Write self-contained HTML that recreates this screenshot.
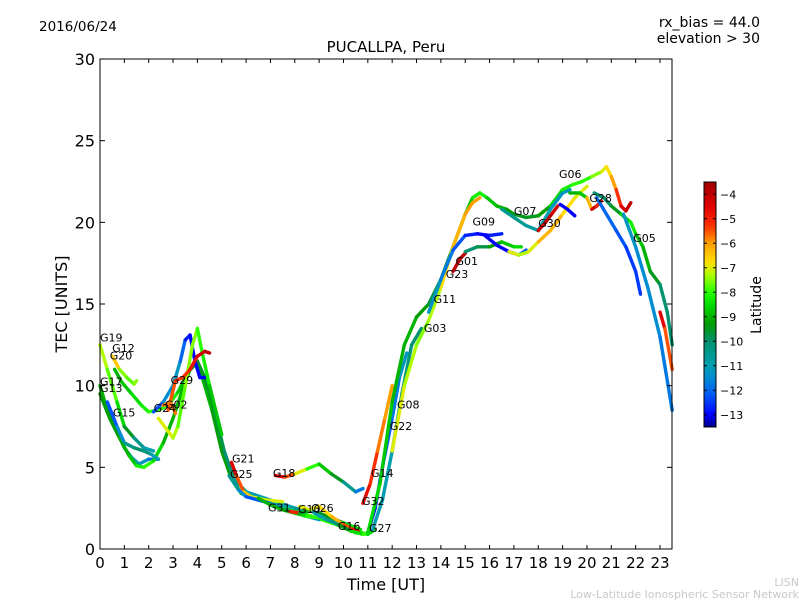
<!DOCTYPE html>
<html><head><meta charset="utf-8">
<style>
body{margin:0;background:#fff;}
svg text{font-family:"DejaVu Sans","Liberation Sans",sans-serif;}
</style></head>
<body>
<svg id="chart" width="800" height="600" xmlns="http://www.w3.org/2000/svg">
<rect width="800" height="600" fill="#fff"/>
<text x="39" y="31" font-size="13.5">2016/06/24</text>
<text x="760" y="27" font-size="14" text-anchor="end">rx_bias = 44.0</text>
<text x="760" y="43" font-size="14" text-anchor="end">elevation &gt; 30</text>
<text x="386" y="52" font-size="15" text-anchor="middle">PUCALLPA, Peru</text>
<g id="tracks"></g>
<g id="labels"></g>
<g id="axes"></g>
<rect x="100" y="59" width="572" height="490" fill="none" stroke="#000" stroke-width="1"/>
<text x="386" y="590" font-size="16" text-anchor="middle">Time [UT]</text>
<text x="67" y="304" font-size="16" text-anchor="middle" transform="rotate(-90 67 304)">TEC [UNITS]</text>
<defs><linearGradient id="jetg" x1="0" y1="1" x2="0" y2="0"></linearGradient></defs>
<rect x="704" y="182" width="12" height="245" fill="url(#jetg)" stroke="#000" stroke-width="1"/>
<g id="cbticks"></g>
<text x="761" y="305" font-size="14" text-anchor="middle" transform="rotate(-90 761 305)">Latitude</text>
<text x="799" y="586" font-size="11" fill="#c8c8c8" text-anchor="end">LISN</text>
<text x="799" y="598" font-size="11" fill="#c8c8c8" text-anchor="end">Low-Latitude Ionospheric Sensor Network</text>
</svg>
<script>
const xTicks=[0,1,2,3,4,5,6,7,8,9,10,11,12,13,14,15,16,17,18,19,20,21,22,23];
const yTicks=[0,5,10,15,20,25,30];
const cbTicks=[-4,-5,-6,-7,-8,-9,-10,-11,-12,-13];
const trackTimes=[
[0,0.3,0.7,1.0,1.4,1.8,2.2],
[0.5,0.8,1.1,1.4,1.5],
[0.6,0.9,1.3,1.7,2.0,2.4,2.8,3.2,3.6,3.9,4.2,4.6,5.0,5.4,5.8,6.5,7.5,8.5,9.5,10.5,11.0],
[0,0.3,0.7,1.0,1.3,1.6,2.0,2.4],
[0,0.4,0.8,1.2,1.5,1.8,2.2,2.6,3.0,3.4,3.7,4.0,4.3,4.7,5.1,5.5,6.0,7,8,9,10,10.7],
[0.3,0.7,1.0,1.4,1.8,2.1,2.4],
[2.2,2.6,3.0,3.3,3.5,3.7,3.9,4.1,4.3],
[2.4,2.8,3.0,3.2,3.5,3.8,4.0,4.2,4.5,5.0],
[2.8,3.1,3.4,3.7,4.0,4.3,4.5],
[2.6,2.9,3.1],
[5.4,5.6,5.9,6.2,6.8,7.5],
[5.3,5.7,6.0,6.5,7.0,7.5,8.0,8.5,9.0],
[6.5,7,7.5,8,8.5,9,9.5,10,10.5,11,11.3],
[7.2,7.6,8.0,8.5,9.0,9.5,10.0,10.5,10.8],
[8.2,8.6,9.0,9.5,10.0,10.4,10.6],
[7.8,8.2,8.5],
[8.8,9.3,9.8,10.3,10.8,11.0],
[10.8,11.1,11.4,11.7,12.0],
[11.0,11.3,11.6,12.0,12.3,12.6],
[11.2,11.6,12.0,12.4,12.8,13.2],
[11.0,11.5,12.0,12.5,13.0,13.5,14.0,14.5,15.0,15.3,15.6,15.9,16.3,16.7,17.0,17.5,18.0,18.5,19.0],
[12.0,12.5,13.0,13.5,14.0,14.5,15.0,15.3,15.6],
[13.5,14.0,14.5,15.0,15.5,16.0,16.5],
[14.5,14.8,15.0],
[15.0,15.5,16.0,16.5,17.0,17.3],
[15.8,16.3,16.8,17.2,17.5],
[16.5,17.0,17.5,18.0,18.5,19.0,19.3],
[16.8,17.2,17.6,18.0,18.5,19.0,19.5,20.0],
[18.0,18.3,18.6,18.8],
[19.0,19.4,19.8,20.2,20.6,20.8,21.0,21.2,21.4,21.6,21.8],
[19.3,19.7,20.0,20.2,20.4,20.6],
[20.4,20.8,21.2,21.6,22.0,22.2],
[20.3,20.7,21.0,21.4,21.8,22.0,22.3,22.6,23.0,23.3,23.5],
[21.5,22,22.5,23,23.5],
[23.0,23.2,23.5],
[18.9,19.2,19.5]
];
const trackTec=[
[12.5,11,9,7.5,6.8,6.2,6],
[11.8,11,10.5,10.1,10.3],
[11,10.2,9.5,8.8,8.4,8.5,8.8,9.6,10.8,11.3,10.5,8.5,6,4.3,3.4,3.0,2.6,2.1,1.6,1.1,0.9],
[10,8.5,7.2,6.2,5.6,5.2,5.5,5.5],
[9.5,8,6.8,5.7,5.1,5.0,5.4,6.5,8,9.8,11,11.5,10.5,8.5,6,4.3,3.5,3.0,2.5,2.2,1.6,1.2],
[9,7.5,6.5,6.2,6,5.8,5.5],
[8.4,9.0,10,11.5,12.8,13.1,11.5,10.5,10.5],
[8.0,7.2,6.8,7.5,10,12.5,13.5,12,10,7],
[8.5,10.3,10.5,11,11.8,12.1,12],
[8.8,9,8.3],
[5.3,4.5,3.5,3.2,3.0,2.9],
[4.5,3.6,3.2,3.0,2.8,2.5,2.2,2.0,1.8],
[3.1,2.7,2.4,2.2,2.0,1.9,1.7,1.3,1.0,0.9,1.2],
[4.5,4.4,4.6,4.9,5.2,4.6,4.1,3.5,3.7],
[2.6,2.4,2.6,2.0,1.5,1.2,1.1],
[2.3,2.2,2.3],
[2.2,1.8,1.5,1.1,0.9,1.0],
[2.8,4,6,8,10],
[1.0,2.5,5,8,10.5,12],
[1.2,3,6,9.5,12.5,13.5],
[1.0,4,9,12.5,14.2,15,16.5,18.5,20.5,21.5,21.8,21.5,21,20.8,20.5,20.3,20.4,21,22],
[6,10,12.5,14,16,18.5,20.5,21.2,21.5],
[14.5,16.5,18.3,19.2,19.3,19.2,19.3],
[17,17.8,18.1],
[18.2,18.5,18.5,18.8,18.5,18.5],
[19.2,18.6,18.2,18,18.3],
[20.8,20.3,19.8,19.5,20.8,21.8,22],
[18.2,18,18.2,18.8,19.5,20.5,21.5,22.2],
[19.5,20.0,20.6,21],
[22,22.3,22.5,22.8,23.1,23.4,22.8,22,21,20.7,21.2],
[21.8,21.8,21.5,20.8,21,21.3],
[21.5,20.5,19.5,18.5,17,15.6],
[21.8,21.5,21,20.5,20,19.3,18.5,17,16.2,14.5,12.5],
[20.5,18.5,16,13,8.5],
[14.5,13.5,11],
[21.1,20.8,20.4]
];
const trackLat=[
[-7,-7.5,-8,-9,-10,-11,-11],
[-6,-7,-8,-7.5,-7.5],
[-9,-9,-8.5,-8.5,-8,-8,-8,-8.5,-9,-9,-9,-9,-9.5,-9,-9,-8.5,-8.5,-8,-8,-8,-8.5],
[-9,-9,-10,-10,-11,-11,-11.5,-12],
[-9,-9.5,-9,-9,-8.5,-8,-8,-9,-9,-9,-9.5,-9.5,-9.5,-9.5,-10,-10,-11,-11,-11,-10,-9,-8],
[-12.5,-12,-11,-10,-10,-10.5,-11.5],
[-12.5,-12,-11,-11.5,-12.5,-13,-13,-13,-13],
[-7,-7,-7,-7.5,-8,-7,-8,-8,-8.5,-9],
[-6,-5,-5.5,-5,-4.5,-4,-4],
[-6,-5.5,-6],
[-4,-5,-6,-7,-7,-7],
[-10,-11,-12,-12.5,-12,-11,-11,-11,-11.5],
[-9,-9,-9,-9,-8,-8,-8.5,-9,-8,-8,-9],
[-4,-4.5,-6.5,-7.5,-8.5,-9,-10,-11,-12.5],
[-7,-7,-7,-6.5,-6,-5,-4],
[-4,-6,-13],
[-11,-11,-10,-9,-8,-8],
[-4.5,-5,-5.5,-6,-6],
[-13,-13,-12.5,-12,-11.5,-11],
[-11,-11,-11,-10.5,-10,-10],
[-8.5,-8.5,-9,-9,-9,-9.5,-10,-9.5,-9,-8.5,-8,-8.5,-9,-9,-9.5,-9.5,-9.5,-9,-8],
[-7,-7,-7.5,-7.5,-7,-6.5,-6,-6,-6],
[-11,-11.5,-12,-12.5,-13,-13,-12.5],
[-4,-4,-4],
[-10,-10,-9.5,-9,-8.5,-8.5],
[-13,-13,-13,-12.5,-12],
[-10.5,-10.5,-10.5,-11,-11,-11.5,-11],
[-7,-7,-7.5,-6.5,-6,-6.5,-7,-7],
[-4.5,-4,-4,-4.5],
[-8.5,-8,-8,-8,-7,-7,-6.5,-5.5,-5,-4,-4],
[-9,-9,-8.5,-4,-4.5,-5.5],
[-12,-12,-12,-12.5,-12.5,-12.5],
[-10,-10,-10,-9,-8,-8.5,-9,-9,-10,-10,-10],
[-11,-11.5,-11.5,-11.5,-12],
[-4,-5,-6],
[-13,-13,-13]
];
const labelNames=["G19","G12","G20","G17","G13","G15","G29","G02","G24","G21","G25","G18","G31","G10","G26","G16","G27","G32","G14","G22","G08","G03","G11","G23","G01","G09","G07","G30","G06","G28","G05"];
const labelTime=[0,0.5,0.4,0,0,0.53,2.9,2.67,2.2,5.42,5.34,7.1,6.9,8.13,8.67,9.77,11.05,10.76,11.13,11.9,12.2,13.3,13.7,14.2,14.6,15.3,17.0,18.0,18.85,20.1,21.9];
const labelTec=[12.7,12.05,11.6,10.0,9.6,8.1,10.1,8.6,8.4,5.3,4.35,4.4,2.3,2.2,2.27,1.16,1.04,2.7,4.4,7.3,8.6,13.3,15.05,16.6,17.4,19.8,20.45,19.7,22.7,21.25,18.8];

const X=t=>100+t*(560/23);
const Y=v=>549-v*(490/30);
const latMin=-13.5,latMax=-3.5;
const CY=l=>427-(l-latMin)/(latMax-latMin)*245;
const cmapStops=[[-13.5,[0,0,140]],[-13,[0,0,255]],[-12.3,[0,80,255]],[-11.5,[0,140,210]],[-11,[0,160,176]],[-10,[0,145,110]],[-9.3,[0,155,0]],[-8.5,[0,220,0]],[-8,[40,255,0]],[-7.3,[170,255,0]],[-6.8,[255,225,0]],[-6,[255,160,0]],[-5.3,[255,50,0]],[-4.5,[225,0,0]],[-3.5,[160,0,0]]];
function cmap(l){
  if(l<=cmapStops[0][0]) return `rgb(${cmapStops[0][1]})`;
  for(let i=0;i<cmapStops.length-1;i++){
    const a=cmapStops[i],b=cmapStops[i+1];
    if(l<=b[0]){const f=(l-a[0])/(b[0]-a[0]);const c=a[1].map((v,k)=>Math.round(v+(b[1][k]-v)*f));return `rgb(${c})`;}
  }
  return `rgb(${cmapStops[cmapStops.length-1][1]})`;
}
const NS="http://www.w3.org/2000/svg";
const mk=(tag,attrs,parent)=>{const e=document.createElementNS(NS,tag);for(const k in attrs)e.setAttribute(k,attrs[k]);parent.appendChild(e);return e;};

const tg=document.getElementById('tracks');
trackTimes.forEach((ts,i)=>{
  const g=mk('g',{},tg);
  
  
  for(let j=0;j<ts.length-1;j++){
    const ln=mk('line',{x1:X(ts[j]),y1:Y(trackTec[i][j]),x2:X(ts[j+1]),y2:Y(trackTec[i][j+1]),stroke:cmap((trackLat[i][j]+trackLat[i][j+1])/2),'stroke-width':3.4,'stroke-linecap':'round'},g);
    
    
  }
});
const lg=document.getElementById('labels');
labelNames.forEach((n,i)=>{
  const t=mk('text',{x:X(labelTime[i]),y:Y(labelTec[i]),'font-size':11},lg);
  t.textContent=n;
  
  
});
const ag=document.getElementById('axes');
xTicks.forEach(t=>{
  const x=X(t);
  mk('line',{x1:x,y1:549,x2:x,y2:545,stroke:'#000'},ag);
  mk('line',{x1:x,y1:59,x2:x,y2:63,stroke:'#000'},ag);
  const tx=mk('text',{x:x,y:568,'font-size':15,'text-anchor':'middle'},ag);
  tx.textContent=t;
  
  
});
yTicks.forEach(v=>{
  const y=Y(v);
  mk('line',{x1:100,y1:y,x2:105,y2:y,stroke:'#000'},ag);
  mk('line',{x1:672,y1:y,x2:667,y2:y,stroke:'#000'},ag);
  const tx=mk('text',{x:95,y:y+6,'font-size':16,'text-anchor':'end'},ag);
  tx.textContent=v;
  
  
});
const grad=document.getElementById('jetg');
for(let k=0;k<=40;k++){
  const l=latMin+(latMax-latMin)*k/40;
  mk('stop',{offset:(k*2.5)+'%','stop-color':cmap(l)},grad);
}
const cg=document.getElementById('cbticks');
cbTicks.forEach(l=>{
  const y=CY(l);
  mk('line',{x1:704,y1:y,x2:707,y2:y,stroke:'#000'},cg);
  mk('line',{x1:716,y1:y,x2:713,y2:y,stroke:'#000'},cg);
  const tx=mk('text',{x:720,y:y+4,'font-size':11},cg);
  tx.textContent='\u2212'+Math.abs(l);
  
  
});
</script>
</body></html>
